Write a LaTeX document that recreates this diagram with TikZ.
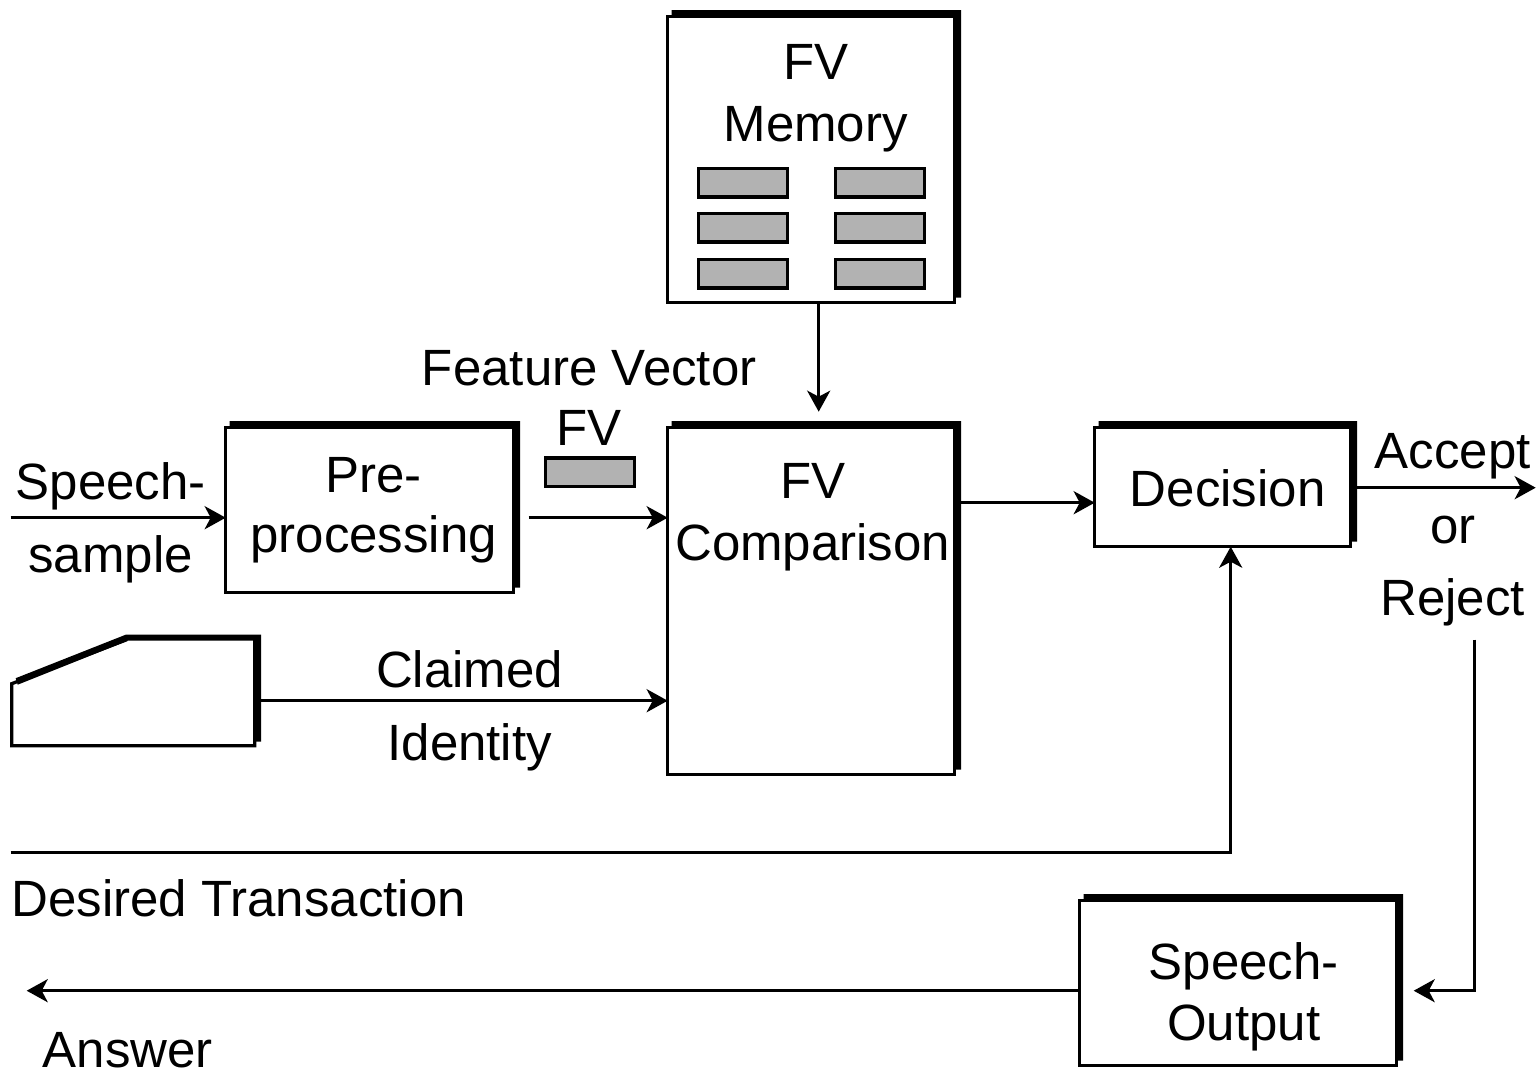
\documentclass[tikz,border=0pt]{standalone}
\usepackage{fontspec}
\setmainfont{Liberation Sans}
\usetikzlibrary{arrows.meta,calc}
\definecolor{vecgrey}{HTML}{B2B2B2}
\tikzset{
  x=1pt,y=-1pt,
  box/.style={draw,line width=3.3pt,fill=white,minimum width=#1,inner sep=0pt,outer sep=0pt},
  vec/.style={draw,line width=3.3pt,fill=vecgrey,minimum width=89pt,minimum height=28.5pt,inner sep=0pt,outer sep=0pt},
  lbl/.style={anchor=base,inner sep=0pt,align=center,font=\fontsize{51}{62}\selectfont},
  wide/.style={lbl,font=\fontsize{51}{74}\selectfont},
  conn/.style={line width=3.3pt,-{Stealth[length=21pt,width=23pt,inset=6pt]}}
}
\newcommand{\shadowed}[1]{%
  \fill ($(#1.north west)+(4,-6.5)$) -- ($(#1.north east)+(6.5,-6.5)$) -- ($(#1.south east)+(6.5,-5)$)
     -- ($(#1.south east)+(0,-5)$) -- ($(#1.north east)+(0,0)$) -- ($(#1.north west)+(4,0)$) -- cycle;}
\begin{document}
\begin{tikzpicture}
\useasboundingbox (0.3,0.3) rectangle (1538.3,1071.3);
% boxes
\node[box=287pt,minimum height=286pt] (mem) at (811.5,160) {};
\node[box=288pt,minimum height=165pt] (pre) at (370,510.5) {};
\node[box=287pt,minimum height=347pt] (cmp) at (811.5,601.5) {};
\node[box=256pt,minimum height=119pt] (dec) at (1223,487.5) {};
\node[box=317pt,minimum height=165pt] (out) at (1238.5,983.5) {};
\shadowed{mem}\shadowed{pre}\shadowed{cmp}\shadowed{dec}\shadowed{out}
% keyboard
\coordinate (kbdout) at (260,701);
\fill (16,678.5) -- (126,635) -- (261.5,635) -- (261.5,742) -- (255,742) -- (255,641) -- (128,641) -- (18,685) -- cycle;
\draw[line width=3.3pt,line join=miter] (127,640) -- (12,684) -- (12,746) -- (255,746) -- (255,640);
% vectors
\node[vec] (m1) at (743,183) {};
\node[vec] (m2) at (880,183) {};
\node[vec] (m3) at (743,228) {};
\node[vec] (m4) at (880,228) {};
\node[vec] (m5) at (743,274) {};
\node[vec] (m6) at (880,274) {};
\node[vec] (fvv) at (590,472.5) {};
% labels
\node[lbl] (tmem) at (816,142) {FV\\Memory};
\node[lbl] (tfv) at (589.5,446) {Feature Vector\\[-1.5pt]FV};
\node[lbl] (tpre) at (374,553) {Pre-\\[-1.5pt]processing};
\node[lbl] (tcmp) at (813,561) {FV\\Comparison};
\node[lbl] (tdec) at (1228,507) {Decision};
\node[wide] (tacc) at (1453,616) {Accept\\[1pt]or\\[-2pt]Reject};
\node[wide] (tsp) at (111,573) {Speech-\\[-1pt]sample};
\node[wide] (tcl) at (470,761) {Claimed\\[-1pt]Identity};
\node[lbl] (tdes) at (239,917) {Desired Transaction};
\node[lbl] (tans) at (128,1068) {Answer};
\node[lbl] (tout) at (1244,1041) {Speech-\\[-1pt]Output};
% free ends
\coordinate (sin) at (11,518);
\coordinate (fvs) at (529,518);
\coordinate (memt) at (819,412);
\coordinate (acc) at (1536,488);
\coordinate (des) at (11,853);
\coordinate (rej) at (1475,640);
\coordinate (outt) at (1414,991);
\coordinate (ans) at (27,991);
% connectors
\draw[conn] (sin) -- (pre.west |- sin);
\draw[conn] (fvs) -- (cmp.west |- fvs);
\draw[conn] (mem.south -| memt) -- (memt);
\draw[conn] (kbdout) -- (cmp.west |- kbdout);
\draw[conn] ($(cmp.east)+(6,-98.5)$) -- ($(dec.west)+(0,15.5)$);
\draw[conn] ($(dec.east)+(6,0.5)$) -- (acc);
\draw[conn,line join=miter] (des) -- (1231,853) -- (1231,547);
\draw[conn,line join=miter] (rej) -- (rej |- outt) -- (outt);
\draw[conn] (out.west |- ans) -- (ans);
\end{tikzpicture}
\end{document}
